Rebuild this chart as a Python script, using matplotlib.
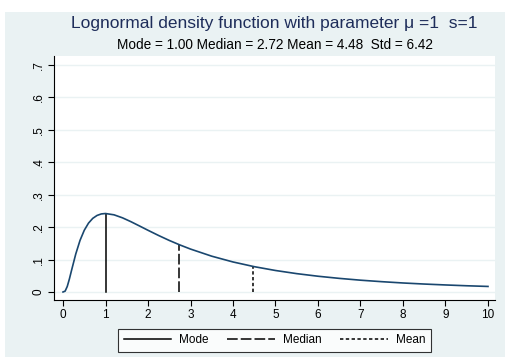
import matplotlib
matplotlib.use("Agg")
import matplotlib.pyplot as plt
from matplotlib.patches import Rectangle

# density values
x_vals = [0, 0.05, 0.1, 0.15, 0.2, 0.3, 0.4, 0.5, 0.6, 0.7, 0.8, 0.9, 1.0,
          1.2, 1.4, 1.6, 1.8, 2.0, 2.25, 2.5, 2.75, 3.0, 3.5, 4.0, 4.5,
          5.0, 5.5, 6.0, 6.5, 7.0, 7.5, 8.0, 8.5, 9.0, 9.5, 10.0]
dens = [0, 0.0027, 0.0171, 0.0400, 0.0663, 0.1172, 0.1590, 0.1903, 0.2124,
        0.2271, 0.2360, 0.2407, 0.2420, 0.2380, 0.2287, 0.2167, 0.2036,
        0.1903, 0.1742, 0.1590, 0.1451, 0.1324, 0.1104, 0.0926, 0.0781,
        0.0663, 0.0566, 0.0486, 0.0420, 0.0364, 0.0318, 0.0278, 0.0245,
        0.0217, 0.0192, 0.0171]

# summary statistics and the density at each
stat_names = ["Mode", "Median", "Mean"]
stat_x = [1.00, 2.72, 4.48]
stat_y = [0.2420, 0.1468, 0.0786]
stat_styles = ["-", (0, (7, 2)), (0, (2.2, 1.6))]

xticks = list(range(0, 11))
yticks = [0, 0.1, 0.2, 0.3, 0.4, 0.5, 0.6, 0.7]
ylabels = ["0", ".1", ".2", ".3", ".4", ".5", ".6", ".7"]

plt.rcParams['font.family'] = ['Liberation Sans', 'DejaVu Sans']

bg = "#eaf2f3"
fig = plt.figure(figsize=(5.05, 3.63), dpi=100, facecolor="white")
fig.patches.append(Rectangle((5 / 505, 6 / 363), 500 / 505, 345 / 363,
                             transform=fig.transFigure, facecolor=bg,
                             edgecolor="none", zorder=-10))

ax = fig.add_axes([54 / 505, 63 / 363, 441 / 505, 244 / 363])
ax.set_facecolor("white")
ax.spines["top"].set_visible(False)
ax.spines["right"].set_visible(False)
ax.spines["left"].set_color("black")
ax.spines["bottom"].set_color("black")

ax.plot(x_vals, dens, color="#1a476f", lw=1.2, zorder=3)
for nm, sx, sy, ls in zip(stat_names, stat_x, stat_y, stat_styles):
    ax.plot([sx, sx], [0, sy], color="black", lw=1.1, linestyle=ls, label=nm, zorder=2)

ax.set_xlim(-0.212, 10.165)
ax.set_ylim(-0.0247, 0.7278)
ax.set_xticks(xticks)
ax.set_yticks(yticks)
ax.set_yticklabels(ylabels, rotation=90, va="center")
ax.tick_params(axis="both", direction="out", length=4, width=0.8,
               labelsize=8.5, colors="black", pad=2.5)
ax.yaxis.grid(True, color=bg, lw=1)
ax.set_axisbelow(True)

fig.text(0.5436, 0.935, "Lognormal density function with parameter \u03bc =1  s=1",
         ha="center", va="center", fontsize=12.5, color="#1e2d5a")
fig.text(0.5436, 0.876, "Mode = 1.00 Median = 2.72 Mean = 4.48  Std = 6.42",
         ha="center", va="center", fontsize=9.8, color="black")

leg = fig.legend(loc="center", ncol=3, frameon=True, fontsize=8.5,
                 handlelength=4.0, columnspacing=1.6, handletextpad=0.7,
                 borderpad=0.45, fancybox=False)
leg.set_bbox_to_anchor((0.5436, 0.0625), transform=fig.transFigure)
leg.get_frame().set_edgecolor("black")
leg.get_frame().set_linewidth(0.8)

fig.savefig("out.png", dpi=100, facecolor="white")
